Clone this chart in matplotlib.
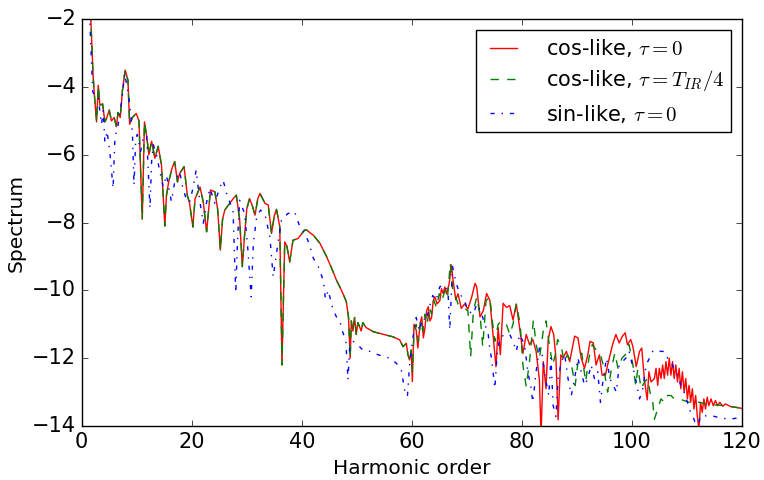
import matplotlib
matplotlib.use('Agg')
import matplotlib.pyplot as plt

# cos-like, tau=0 (red)
red_x = [1.6, 2.06, 2.3, 2.7, 3.0, 3.3, 3.8, 4.2, 4.5, 5.0, 5.4, 5.9, 6.3, 6.6, 7.0, 7.4, 7.9, 8.4,
         8.7, 9.2, 9.9, 10.4, 11.0, 11.4, 11.8, 12.2, 12.7, 13.3, 13.9, 14.5, 15.1, 15.4, 15.8, 16.4,
         16.9, 17.4, 17.8, 18.6, 19.2, 19.6, 20.2, 20.6, 21.5, 22.1, 22.7, 23.4, 24.2, 24.7, 25.2,
         25.6, 26.0, 26.9, 27.5, 28.1, 28.7, 29.2, 29.6, 30.0, 30.5, 31.0, 31.5, 32.0, 32.4, 33.3,
         33.9, 34.5, 35.0, 35.4, 36.0, 36.4, 36.9, 37.3, 37.8, 38.4, 39.3, 40.5, 40.9, 41.5, 42.1,
         43.3, 44.5, 45.7, 46.3, 46.9, 47.5, 48.1, 48.5, 48.8, 49.0, 49.3, 49.6, 49.9, 50.2, 50.5,
         50.8, 51.1, 51.7, 52.3, 53.0, 54.2, 55.4, 56.6, 57.8, 58.4, 59.0, 59.3, 59.6, 59.9]
red_y = [-1.8, -3.65, -4.24, -5.03, -3.95, -4.54, -4.5, -5.03, -4.93, -4.68, -5.0, -4.9, -5.17, -4.75,
         -4.9, -4.1, -3.5, -3.8, -5.1, -4.9, -4.78, -5.0, -7.9, -5.03, -5.45, -6.0, -5.6, -6.1, -5.75,
         -6.3, -8.1, -7.2, -6.8, -6.4, -6.2, -6.8, -6.55, -6.35, -7.2, -7.43, -8.13, -7.3, -6.95, -7.4,
         -8.27, -7.04, -7.09, -7.6, -8.81, -7.9, -7.63, -7.43, -7.3, -7.19, -7.9, -9.3, -8.37, -7.6,
         -7.29, -7.5, -7.78, -7.3, -7.14, -7.43, -7.48, -8.32, -7.8, -7.61, -8.12, -12.2, -8.57, -8.7,
         -9.16, -8.52, -8.47, -8.22, -8.22, -8.3, -8.37, -8.61, -9.0, -9.45, -9.7, -9.89, -10.1, -10.33,
         -10.8, -12.0, -10.9, -11.2, -10.8, -11.3, -10.95, -11.07, -11.2, -10.95, -11.1, -11.15, -11.22,
         -11.27, -11.32, -11.37, -11.46, -11.66, -11.56, -11.9, -12.05, -11.76]

red_tail_x = [60.1, 60.4, 60.8, 61.1, 61.5, 61.8, 62.1, 62.4, 62.7, 63.0, 63.3, 63.6, 63.9, 64.2, 64.6,
              65.1, 65.4, 65.7, 66.0, 66.3, 66.8, 67.2, 67.5, 68.0, 68.4, 69.0, 69.6, 70.2, 70.9, 71.5,
              71.8, 72.4, 73.0, 73.6, 74.2, 74.8, 75.3, 75.7, 76.1, 76.6, 77.2, 77.8, 78.4, 79.0, 79.6,
              80.2, 80.8, 81.4, 82.0, 82.6, 83.2, 83.5, 83.9, 84.4, 84.8, 85.3, 85.8, 86.2, 86.6, 87.1,
              87.5, 88.1, 88.7, 89.3, 89.6, 90.2, 90.8, 91.4, 92.0, 92.4, 93.0, 93.5, 94.1, 94.6, 95.2,
              95.6, 96.5, 97.1, 97.7, 98.3, 98.8, 99.2, 99.8, 100.2, 100.8, 101.4, 101.8, 102.3, 102.8,
              103.1, 103.5, 104.1, 104.4, 104.7, 105.0, 105.3, 105.6, 105.9, 106.2, 106.5, 106.8, 107.1,
              107.4, 107.7, 108.0, 108.3, 108.6, 108.9, 109.2, 109.5, 109.8, 110.1, 110.4, 110.7, 111.0,
              111.3, 111.6, 111.9, 112.2, 112.5, 112.8, 113.1, 113.4, 113.7, 114.0, 114.4, 114.8, 115.2,
              115.6, 116.0, 116.5, 117.0, 118.0, 119.0, 120.0]
red_tail_y = [-12.69, -11.0, -11.17, -11.7, -11.0, -10.78, -11.4, -11.1, -10.6, -10.48, -10.9, -10.8,
              -10.3, -10.19, -10.4, -10.3, -9.95, -10.09, -9.9, -10.1, -9.8, -9.25, -9.7, -10.28, -10.1,
              -10.53, -10.4, -10.55, -10.19, -9.79, -9.9, -10.78, -10.6, -10.09, -10.3, -11.37, -12.25,
              -11.1, -11.9, -10.38, -10.5, -10.45, -10.87, -10.4, -11.1, -11.86, -11.3, -11.6, -11.45,
              -11.8, -12.64, -14.3, -12.1, -12.9, -11.45, -11.07, -11.3, -12.0, -13.82, -11.9, -12.0,
              -11.8, -12.1, -11.6, -11.35, -11.4, -12.0, -12.3, -11.9, -11.5, -11.55, -12.2, -11.9, -12.5,
              -12.5, -12.2, -11.6, -11.3, -11.55, -11.35, -11.25, -11.6, -11.45, -11.66, -12.25, -11.8,
              -11.7, -12.65, -13.23, -12.4, -12.7, -12.6, -12.3, -12.8, -12.3, -12.6, -12.2, -12.6, -12.1,
              -12.5, -12.0, -12.5, -12.1, -12.6, -12.2, -12.7, -12.3, -12.9, -12.4, -13.0, -12.6, -13.2,
              -12.8, -13.3, -12.9, -13.5, -13.1, -13.7, -14.1, -13.3, -13.6, -13.2, -13.5, -13.15, -13.4,
              -13.2, -13.4, -13.25, -13.4, -13.3, -13.42, -13.35, -13.43, -13.45, -13.48]

# cos-like, tau=T_IR/4 (green): follows the red curve below harmonic 60
green_tail_x = [60.1, 60.4, 60.8, 61.2, 61.6, 62.0, 62.4, 62.8, 63.2, 63.6, 64.0, 64.5, 65.0, 65.5,
                66.0, 66.5, 67.0, 67.5, 68.0, 68.4, 69.3, 70.2, 70.7, 71.2, 71.8, 72.4, 72.9, 73.5,
                74.2, 74.5, 75.1, 75.7, 76.3, 77.2, 77.8, 78.4, 79.0, 79.7, 80.2, 80.8, 81.4, 82.1,
                82.6, 83.2, 83.9, 84.4, 85.0, 85.6, 86.1, 86.5, 87.1, 87.7, 88.3, 88.9, 89.7, 90.3,
                90.9, 91.6, 92.2, 92.8, 93.5, 94.3, 94.8, 95.6, 96.2, 96.9, 97.5, 98.2, 98.8, 99.5,
                100.2, 100.7, 101.1, 101.7, 102.3, 102.9, 103.3, 103.8, 104.1, 104.7, 105.3, 105.9,
                106.5, 107.1, 107.7, 108.6, 109.5, 110.4, 111.3, 112.2, 113.4, 115.2, 117.0, 120.0]
green_tail_y = [-12.4, -11.3, -11.0, -11.5, -10.9, -11.2, -10.7, -11.0, -10.5, -10.7, -10.3, -10.5,
                -10.1, -10.3, -10.0, -10.2, -9.2, -10.1, -10.2, -10.4, -10.5, -10.6, -11.96, -10.6,
                -10.2, -10.7, -11.66, -10.3, -10.2, -10.7, -11.5, -11.0, -10.9, -11.0, -11.3, -11.0,
                -10.4, -11.0, -12.2, -12.84, -12.1, -10.88, -11.6, -12.0, -11.2, -10.9, -11.6, -12.2,
                -11.9, -11.45, -11.6, -12.1, -11.9, -12.1, -12.8, -12.0, -11.85, -12.7, -12.0, -11.6,
                -11.75, -11.9, -12.2, -13.0, -12.4, -11.85, -12.3, -12.0, -11.9, -11.6, -12.2, -12.8,
                -12.3, -12.9, -12.7, -12.6, -13.0, -13.3, -13.8, -13.5, -13.2, -13.3, -13.1, -13.1,
                -13.2, -13.2, -13.25, -13.3, -13.3, -13.3, -13.35, -13.38, -13.4, -13.48]

# sin-like, tau=0 (blue)
blue_x = [1.4, 2.0, 2.5, 3.0, 3.3, 3.6, 3.9, 4.2, 4.6, 5.1, 5.7, 6.0, 6.3, 6.6, 7.3, 7.8, 8.4, 8.7,
          9.2, 9.5, 9.8, 10.1, 10.7, 11.2, 11.8, 12.1, 12.4, 12.7, 13.0, 13.6, 14.2, 14.8, 15.4, 16.3,
          16.9, 17.8, 18.4, 19.0, 19.6, 20.2, 20.8, 21.4, 22.1, 22.7, 23.3, 24.2, 25.0, 25.7, 26.4,
          27.5, 28.0, 28.3, 28.7, 29.6, 30.2, 30.8, 31.2, 31.8, 32.5, 33.3, 34.2, 34.8, 35.5, 36.3,
          37.5, 38.7, 39.6, 40.5, 41.3, 42.1, 43.0, 43.9, 44.3, 44.8, 45.7, 46.3, 46.9, 47.5, 48.0,
          48.4, 48.7, 49.3, 49.9, 51.1, 52.4, 53.6, 54.8, 56.0, 57.2, 58.1, 58.7, 59.2, 59.6, 60.2,
          60.8, 61.4, 62.0, 62.6, 63.2, 63.8, 64.4, 65.1, 66.0, 66.6, 66.9, 67.4, 68.1, 68.7, 69.6,
          70.2, 71.2, 71.8, 72.7, 73.3, 73.9, 74.2, 74.5, 74.8, 75.1, 75.5, 76.0, 76.9, 77.8, 78.4,
          79.0, 79.6, 80.5, 81.1, 81.7, 82.0, 82.6, 83.2, 83.7, 84.3, 84.9, 85.3, 85.7, 86.2, 86.6,
          87.2, 87.8, 88.4, 89.0, 89.6, 90.2, 90.8, 91.4, 92.0, 92.6, 93.2, 93.8, 94.3, 94.8, 95.4,
          96.0, 96.6, 97.2, 97.7, 98.3, 98.9, 99.5, 100.1, 100.8, 101.4, 102.0, 102.6, 103.2, 103.8,
          104.4, 105.3, 105.9, 106.5, 107.1, 107.7, 108.3, 108.9, 109.5, 110.1, 110.7, 111.3, 111.9,
          112.5, 113.4, 114.6, 115.8, 117.6, 120.0]
blue_y = [-1.8, -4.14, -4.29, -4.3, -4.73, -5.1, -4.7, -5.62, -5.3, -5.91, -6.99, -5.62, -5.3, -5.12,
          -4.38, -3.6, -4.14, -4.5, -5.32, -6.9, -5.6, -5.4, -5.9, -5.5, -5.42, -6.5, -7.58, -6.2, -5.7,
          -6.0, -6.5, -6.95, -6.6, -7.38, -6.8, -6.5, -7.0, -7.3, -7.4, -7.0, -6.45, -7.3, -8.02, -7.4,
          -6.99, -7.43, -7.0, -6.75, -7.19, -7.63, -10.08, -8.6, -7.34, -7.73, -8.8, -10.19, -8.6, -7.83,
          -7.63, -7.75, -8.42, -9.6, -8.8, -7.92, -7.73, -7.68, -8.1, -8.3, -8.6, -9.05, -9.3, -9.7,
          -10.25, -10.0, -10.58, -10.78, -10.9, -11.26, -11.46, -12.64, -11.7, -11.5, -11.56, -11.76,
          -11.8, -11.88, -11.95, -12.0, -12.15, -12.35, -12.94, -13.13, -12.2, -11.4, -10.8, -11.2,
          -10.8, -10.9, -10.5, -10.15, -10.3, -9.89, -9.84, -10.1, -11.17, -9.3, -9.8, -10.1, -10.3,
          -10.6, -10.7, -10.4, -10.7, -11.0, -11.3, -11.76, -12.0, -12.45, -12.89, -11.9, -11.4, -11.3,
          -11.3, -11.5, -11.8, -11.3, -11.6, -12.4, -12.9, -13.3, -12.4, -11.7, -11.9, -12.6, -13.1,
          -12.0, -13.4, -13.72, -12.6, -12.1, -11.9, -12.6, -13.1, -12.6, -12.0, -12.4, -12.8, -12.6,
          -12.2, -12.6, -12.4, -13.3, -12.6, -12.0, -12.6, -12.8, -13.0, -12.2, -12.1, -12.0, -11.8,
          -12.2, -12.7, -13.2, -12.9, -12.2, -12.0, -11.8, -11.75, -11.8, -11.8, -12.0, -12.1, -12.3,
          -12.5, -12.8, -13.0, -13.3, -13.6, -13.8, -14.1, -13.7, -13.7, -13.7, -13.75, -13.8, -13.75]

plt.style.use('classic')
fig = plt.figure(figsize=(7.64, 4.8), dpi=100, facecolor='white')
ax = fig.add_axes([0.107, 0.1125, 0.864, 0.8475])

ax.plot(red_x + red_tail_x, red_y + red_tail_y, 'r-', label=r'cos-like, $\tau=0$')
ax.plot(red_x + green_tail_x, red_y + green_tail_y, 'g--', label=r'cos-like, $\tau=T_{IR}/4$')
ax.plot(blue_x, blue_y, 'b-.', label=r'sin-like, $\tau=0$')

ax.set_xlim(0, 120)
ax.set_ylim(-14, -2)
ax.set_xticks(range(0, 121, 20))
ax.set_yticks(range(-14, -1, 2))
ax.tick_params(labelsize=15)
ax.set_xlabel('Harmonic order', fontsize=14.5)
ax.set_ylabel('Spectrum', fontsize=14.5)
ax.legend(loc='upper right', fontsize=15, handlelength=1.9, handletextpad=1.1,
          borderpad=0.35, labelspacing=0.45)

fig.savefig('out.png', dpi=100, facecolor='white')
